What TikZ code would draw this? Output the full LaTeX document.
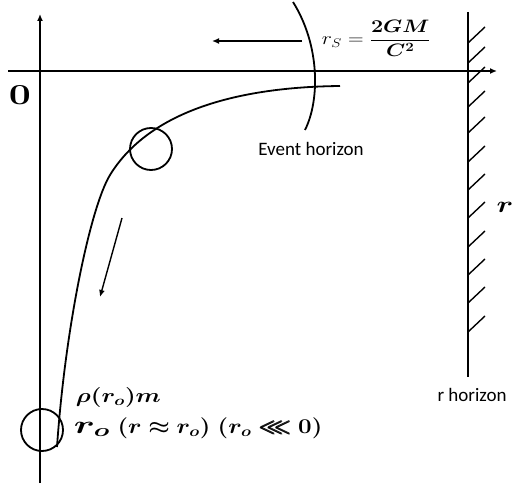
\RequirePackage{fix-cm}
\documentclass[tikz,border=0pt]{standalone}
\usepackage{amsmath,amssymb,bm}
\usepackage{graphicx}
\usepackage[no-math]{fontspec}
\newfontfamily\calibri{Carlito}
\usetikzlibrary{arrows.meta}
\newcommand{\hstr}[2]{\scalebox{#1}[1]{#2}}
\begin{document}
\begin{tikzpicture}[x=1pt,y=-1pt,line width=1.8pt,
  tipped/.style={-{Latex[length=7pt,width=6pt]}},
  hatch/.style={line width=1.4pt},
  mlabel/.style={inner sep=0pt},
  tlabel/.style={inner sep=0pt,font=\calibri\fontsize{19}{22}\selectfont},
  ring/.style={draw,circle,minimum size=42pt,inner sep=0pt}]
\useasboundingbox (0,0) rectangle (514,487);
% axes
\coordinate (vb) at (40,483); \coordinate (vt) at (40,14);
\draw[tipped] (vb) -- (vt);
\coordinate (hl) at (8,71); \coordinate (hr) at (497,71);
\draw[tipped] (hl) -- (hr);
% wall
\coordinate (wt) at (468,12); \coordinate (wb) at (468,377);
\draw (wt) -- (wb);
\foreach \y in {43,63,83,107,133,162,190,218,247,275,303,332}
  \draw[hatch] (468,\y) -- ++(17,-16);
% trajectory
\draw (340,86) .. controls (240,87) and (150,110) .. (110,175)
      .. controls (90,208) and (65,330) .. (57,447);
\node[ring] (c1) at (151,149) {};
\node[ring] (c2) at (42,430) {};
% event horizon arc
\draw (293,2) .. controls (320,45) and (320,100) .. (305,130);
% arrows
\coordinate (la) at (302,41); \coordinate (lb) at (212,41);
\draw[tipped] (la) -- (lb);
\coordinate (da) at (122,218); \coordinate (db) at (100,297);
\draw[tipped,line width=1.4pt] (da) -- (db);
% labels
\node[mlabel,anchor=base west] (rs) at (321,44.5)
  {\fontsize{18}{22}\selectfont\hstr{1.2}{$\displaystyle r_S=\frac{\bm{2GM}}{\bm{C^2}}$}};
\node[mlabel] (zero) at (20,95)
  {\fontsize{29}{34}\selectfont\hstr{1.35}{$\mathbf{0}$}};
\node[mlabel] (rr) at (505,207)
  {\fontsize{23}{28}\selectfont\hstr{1.3}{$\bm{r}$}};
\node[tlabel] (eh) at (311,149) {Event horizon};
\node[tlabel] (rh) at (472,395) {r horizon};
\node[mlabel,anchor=base west] (rho) at (75,402)
  {\fontsize{20}{24}\selectfont\hstr{1.22}{$\bm{\rho(r_o)m}$}};
\node[mlabel,anchor=base west] (ro) at (73,433)
  {\fontsize{21}{25}\selectfont\scalebox{1.8}[1.2]{$\bm{r_o}$}\hstr{1.15}{$\bm{\ (r\approx r_o)\ (r_o\lll 0)}$}};
\end{tikzpicture}
\end{document}
